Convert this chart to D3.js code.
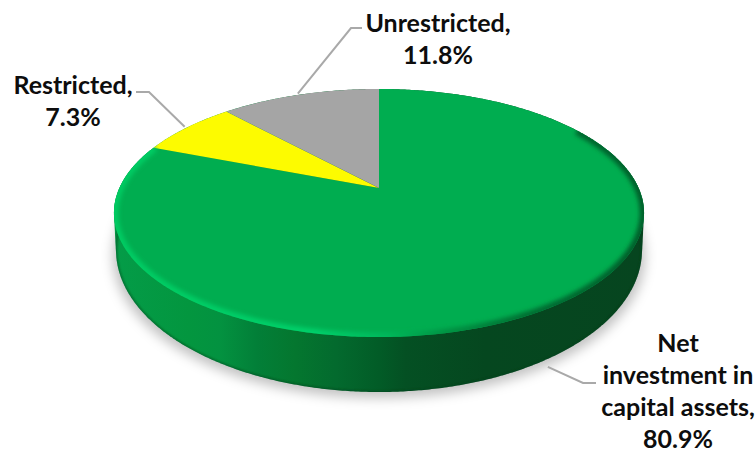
<!DOCTYPE html>
<html>
<head>
<meta charset="utf-8">
<script src="https://cdnjs.cloudflare.com/ajax/libs/d3/7.9.0/d3.min.js"></script>
<style>
  html, body { margin: 0; padding: 0; background: #fff; }
  svg { display: block; }
  text { font-family: Lato, "Open Sans", sans-serif; font-weight: 700; font-size: 25px; fill: #0d0d0d; text-anchor: middle; }
</style>
</head>
<body>
<div id="chart"></div>
<script>
const categories = ["Net investment in capital assets", "Restricted", "Unrestricted"];
const shares = [80.9, 7.3, 11.8];
const sliceColors = ["#00ad50", "#fdfb00", "#a5a5a5"];
const labelLines = [
  ["Net", "investment in", "capital assets,", "80.9%"],
  ["Restricted,", "7.3%"],
  ["Unrestricted,", "11.8%"]
];

const width = 755, height = 453;

// Tilted disc: a circle in the plane seen through a one-point perspective
const apex = { x: 379, y: 188 };
const spanX = 259.6, spanY = 119, tilt = 0.2016;
// Base of the disc, an ellipse below the top face
const base = { x: 379, y: 250, rx: 263, ry: 142 };

function project(angle) {
  const u = Math.sin(angle), v = -Math.cos(angle);
  const w = 1 - tilt * v;
  return [apex.x + spanX * u / w, apex.y + spanY * v / w];
}

const line = d3.line();
const pie = d3.pie().sort(null).value(d => d);
const arcs = pie(shares);

function arcPoints(a0, a1) {
  const n = Math.max(2, Math.ceil(Math.abs(a1 - a0) / 0.01));
  return d3.range(n + 1).map(i => project(a0 + (a1 - a0) * i / n));
}
const slicePath = d => line([[apex.x, apex.y], ...arcPoints(d.startAngle, d.endAngle)]) + "Z";
const rimPoints = arcPoints(0, 2 * Math.PI);
const rimPath = line(rimPoints) + "Z";

const basePoints = d3.range(0, 2 * Math.PI, 0.01).map(a =>
  [base.x + base.rx * Math.sin(a), base.y - base.ry * Math.cos(a)]);
const wallPath = line(d3.polygonHull([...rimPoints, ...basePoints])) + "Z";

const svg = d3.select("#chart").append("svg").attr("width", width).attr("height", height);
const defs = svg.append("defs");

const horizontal = id => defs.append("linearGradient").attr("id", id)
  .attr("gradientUnits", "userSpaceOnUse").attr("x1", 114).attr("x2", 644).attr("y1", 0).attr("y2", 0);

const wallGrad = horizontal("wall");
[[0, "#049c48"], [0.14, "#03963f"], [0.2, "#039240"], [0.27, "#027f38"], [0.34, "#04772f"],
 [0.42, "#036a2e"], [0.5, "#025c27"], [0.55, "#045023"], [0.7, "#05471f"], [1, "#06451f"]]
  .forEach(([o, c]) => wallGrad.append("stop").attr("offset", o).attr("stop-color", c));

const bevelGrad = horizontal("bevel");
[[0, "#00cb62"], [0.38, "#00d06a"], [0.52, "#00b75a"], [0.62, "#009444"], [0.78, "#006f32"], [1, "#005f2b"]]
  .forEach(([o, c]) => bevelGrad.append("stop").attr("offset", o).attr("stop-color", c));

const blur = (id, s) => defs.append("filter").attr("id", id)
  .attr("x", "-10%").attr("y", "-10%").attr("width", "120%").attr("height", "120%")
  .append("feGaussianBlur").attr("stdDeviation", s);
blur("soft", 2);
blur("tight", 1);
blur("shadow", 6);

defs.append("clipPath").attr("id", "disc").append("path").attr("d", rimPath);
defs.append("clipPath").attr("id", "wallClip").append("path").attr("d", wallPath);

// Soft ground shadow under the disc
svg.append("path")
  .attr("d", line(basePoints.map(([x, y]) => [base.x + (x - base.x) * 1.012, y + 6])) + "Z")
  .attr("fill", "#000").attr("fill-opacity", 0.24).attr("filter", "url(#shadow)");

// Wall of the disc, with a darker line along its foot
svg.append("path").attr("d", wallPath).attr("fill", "url(#wall)");
svg.append("g").attr("clip-path", "url(#wallClip)")
  .append("path").attr("d", line(basePoints) + "Z")
  .attr("fill", "none").attr("stroke", "#03401b").attr("stroke-opacity", 0.55)
  .attr("stroke-width", 2.5).attr("filter", "url(#tight)");

// Top face
svg.append("g").selectAll("path").data(arcs).join("path")
  .attr("d", slicePath)
  .attr("fill", (d, i) => sliceColors[i]);

// Bevel along the rim of the green face
const greenRim = arcPoints(Math.PI * 0.32, Math.PI * 1.62);
svg.append("g").attr("clip-path", "url(#disc)")
  .append("path")
  .attr("d", line(greenRim))
  .attr("fill", "none")
  .attr("stroke", "url(#bevel)")
  .attr("stroke-width", 9)
  .attr("filter", "url(#soft)");

// Leader lines start at each slice's mid-angle
const elbows = [
  [[583, 383], [596, 383]],
  [[149, 92], [136, 92]],
  [[351, 28], [362, 28]]
];
svg.append("g").selectAll("path").data(arcs).join("path")
  .attr("d", (d, i) => {
    const [x, y] = project((d.startAngle + d.endAngle) / 2);
    const start = i === 0 ? [x - 7, y + 61] : [x - 2, y - 1];
    return line([start, ...elbows[i]]);
  })
  .attr("fill", "none")
  .attr("stroke", "#a9a9a9")
  .attr("stroke-width", 2);

// Data labels
const labelAt = [
  { x: 678, y: 352 },
  { x: 73, y: 94 },
  { x: 438, y: 32 }
];
const labels = svg.append("g").selectAll("text").data(labelLines).join("text")
  .attr("aria-label", (d, i) => categories[i]);
labels.selectAll("tspan").data((d, i) => d.map(t => ({ t, at: labelAt[i] }))).join("tspan")
  .attr("x", d => d.at.x)
  .attr("y", (d, j) => d.at.y + j * 32)
  .text(d => d.t);
</script>
</body>
</html>
